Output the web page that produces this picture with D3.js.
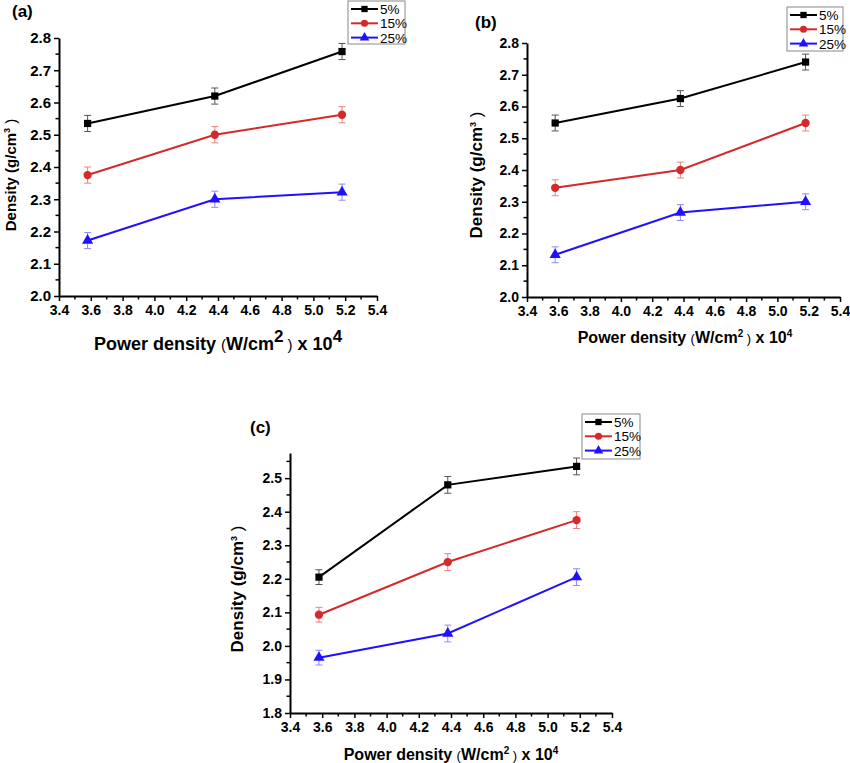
<!DOCTYPE html>
<html>
<head>
<meta charset="utf-8">
<script src="https://cdn.jsdelivr.net/npm/d3@7"></script>
<style>
  body { margin: 0; background: #fff; }
  svg { font-family: "Liberation Sans", Arial, sans-serif; }
  .tick text { font-weight: bold; }
</style>
</head>
<body>
<svg width="850" height="763"></svg>
<script>
// power density (W/cm2) x 10^4
var powerX = [3.58, 4.38, 5.18];
var seriesNames = ['5%', '15%', '25%'];

// panel (a)
var a5 = [2.535, 2.62, 2.758];
var a15 = [2.375, 2.50, 2.562];
var a25 = [2.172, 2.30, 2.322];
// panel (b)
var b5 = [2.548, 2.625, 2.740];
var b15 = [2.344, 2.40, 2.548];
var b25 = [2.133, 2.266, 2.300];
// panel (c)
var c5 = [2.205, 2.480, 2.535];
var c15 = [2.093, 2.250, 2.375];
var c25 = [1.965, 2.037, 2.205];

// error bar half heights
var errA = [0.025, 0.025, 0.025];
var errB = [0.025, 0.025, 0.025];
var errC = [0.022, 0.025, 0.025];

var xTicks = [3.4, 3.6, 3.8, 4.0, 4.2, 4.4, 4.6, 4.8, 5.0, 5.2, 5.4];
var yTicksAB = [2.0, 2.1, 2.2, 2.3, 2.4, 2.5, 2.6, 2.7, 2.8];
var yTicksC = [1.8, 1.9, 2.0, 2.1, 2.2, 2.3, 2.4, 2.5];

var colors = ['#000000', '#d42a2a', '#1f10ff'];
var errColors = ['#555555', '#e88080', '#8f88ff'];
var symbols = [d3.symbolSquare, d3.symbolCircle, d3.symbolTriangle];
var symSize = [52, 54, 54];

var svg = d3.select('svg');

function drawPanel(p) {
    var x = d3.scaleLinear().domain([3.4, 5.4]).range([p.left, p.right]);
    var y = d3.scaleLinear().domain(p.yDomain).range([p.bottom, p.top]);
    var g = svg.append('g');

    // minor ticks
    var xMinor = d3.range(35, 54, 2).map(function(v){ return v / 10; });
    g.selectAll('.xminor').data(xMinor).enter().append('line')
        .attr('x1', function(d){ return x(d); }).attr('x2', function(d){ return x(d); })
        .attr('y1', p.bottom).attr('y2', p.bottom + 3.5)
        .attr('stroke', '#000').attr('stroke-width', 1.5);
    var yMinor = d3.range(Math.round(p.yDomain[0] * 20) + 1, Math.floor(p.yDomain[1] * 20 + 0.01) + 1, 2)
        .map(function(v){ return v / 20; });
    g.selectAll('.yminor').data(yMinor).enter().append('line')
        .attr('y1', function(d){ return y(d); }).attr('y2', function(d){ return y(d); })
        .attr('x1', p.left).attr('x2', p.left - 3.5)
        .attr('stroke', '#000').attr('stroke-width', 1.5);

    var xAxis = d3.axisBottom(x).tickValues(xTicks).tickFormat(d3.format('.1f'))
        .tickSizeInner(5).tickSizeOuter(0).tickPadding(4);
    var gx = g.append('g').attr('transform', 'translate(0,' + p.bottom + ')').call(xAxis);
    gx.selectAll('text').style('font-size', p.xTickSize + 'px');

    var yAxis = d3.axisLeft(y).tickValues(p.yTicks).tickFormat(d3.format('.1f'))
        .tickSizeInner(5).tickSizeOuter(0).tickPadding(3);
    var gy = g.append('g').attr('transform', 'translate(' + p.left + ',0)').call(yAxis);
    gy.selectAll('text').style('font-size', p.yTickSize + 'px');

    [gx, gy].forEach(function(a){
        a.select('.domain').attr('stroke-width', 2);
        a.selectAll('.tick line').attr('stroke-width', 1.5);
    });

    var line = d3.line().x(function(d){ return x(d[0]); }).y(function(d){ return y(d[1]); });

    p.series.forEach(function(vals, i) {
        var pts = powerX.map(function(v, k){ return [v, vals[k], p.err[k]]; });
        g.append('path').datum(pts).attr('d', line)
            .attr('fill', 'none').attr('stroke', colors[i]).attr('stroke-width', 2);
        var eb = g.selectAll('.eb' + i).data(pts).enter().append('g');
        eb.append('line')
            .attr('x1', function(d){ return x(d[0]); }).attr('x2', function(d){ return x(d[0]); })
            .attr('y1', function(d){ return y(d[1] - d[2]); }).attr('y2', function(d){ return y(d[1] + d[2]); })
            .attr('stroke', errColors[i]).attr('stroke-width', 1);
        [-1, 1].forEach(function(s){
            eb.append('line')
                .attr('x1', function(d){ return x(d[0]) - 3.5; }).attr('x2', function(d){ return x(d[0]) + 3.5; })
                .attr('y1', function(d){ return y(d[1] + s * d[2]); }).attr('y2', function(d){ return y(d[1] + s * d[2]); })
                .attr('stroke', errColors[i]).attr('stroke-width', 1);
        });
        g.selectAll('.pt' + i).data(pts).enter().append('path')
            .attr('d', d3.symbol().type(symbols[i]).size(symSize[i]))
            .attr('transform', function(d){ return 'translate(' + x(d[0]) + ',' + y(d[1]) + ')'; })
            .attr('fill', colors[i]);
    });

    // legend
    var L = p.legend;
    g.append('rect').attr('x', L.x).attr('y', L.y).attr('width', L.w).attr('height', L.h)
        .attr('fill', '#fff').attr('stroke', '#888').attr('stroke-width', 1);
    seriesNames.forEach(function(name, i) {
        var ry = L.y + 8 + i * 14.3;
        g.append('line').attr('x1', L.x + 3).attr('x2', L.x + 30).attr('y1', ry).attr('y2', ry)
            .attr('stroke', colors[i]).attr('stroke-width', 2);
        g.append('path').attr('d', d3.symbol().type(symbols[i]).size(40))
            .attr('transform', 'translate(' + (L.x + 16.5) + ',' + ry + ')').attr('fill', colors[i]);
        g.append('text').attr('x', L.x + 32).attr('y', ry + 5).text(name)
            .style('font-size', '13.5px');
    });

    // panel label
    g.append('text').attr('x', p.label[0]).attr('y', p.label[1]).text(p.name)
        .style('font-size', '17px').style('font-weight', 'bold');

    // x title
    var xt = g.append('text').attr('x', p.xTitle[0]).attr('y', p.xTitle[1])
        .attr('text-anchor', 'middle').style('font-weight', 'bold').style('font-size', p.xTitleSize + 'px');
    xt.append('tspan').text('Power density ');
    xt.append('tspan').text('(').style('font-weight', 'normal').style('font-size', (p.xTitleSize - 3) + 'px');
    xt.append('tspan').text('W/cm');
    xt.append('tspan').text('2').attr('dy', -p.supShift).style('font-size', p.supSize + 'px');
    xt.append('tspan').text(' )').attr('dy', p.supShift).style('font-weight', 'normal').style('font-size', (p.xTitleSize - 3) + 'px');
    xt.append('tspan').text(' x 10');
    xt.append('tspan').text('4').attr('dy', -p.supShift).style('font-size', p.supSize + 'px');

    // y title
    var yt = g.append('text')
        .attr('transform', 'translate(' + p.yTitle[0] + ',' + p.yTitle[1] + ')rotate(270)')
        .attr('text-anchor', 'middle').style('font-weight', 'bold').style('font-size', p.yTitleSize + 'px');
    yt.append('tspan').text('Density (g/cm');
    yt.append('tspan').text('3').attr('dy', -6).style('font-size', '9px');
    yt.append('tspan').text(' )').attr('dy', 6).style('font-weight', 'normal');
}

drawPanel({
    name: '(a)', left: 59, right: 377, top: 38, bottom: 296,
    yDomain: [2.0, 2.8], yTicks: yTicksAB, series: [a5, a15, a25], err: errA,
    xTickSize: 14, yTickSize: 15,
    legend: { x: 348, y: 1, w: 57, h: 43 },
    label: [12, 17],
    xTitle: [218, 350], xTitleSize: 18, supShift: 8, supSize: 17,
    yTitle: [16, 175], yTitleSize: 15
});

drawPanel({
    name: '(b)', left: 527, right: 840, top: 43, bottom: 297,
    yDomain: [2.0, 2.8], yTicks: yTicksAB, series: [b5, b15, b25], err: errB,
    xTickSize: 14, yTickSize: 14,
    legend: { x: 787, y: 7, w: 56, h: 44 },
    label: [475, 28],
    xTitle: [685, 343], xTitleSize: 16, supShift: 6, supSize: 10,
    yTitle: [482, 175], yTitleSize: 17
});

drawPanel({
    name: '(c)', left: 290, right: 612, top: 453, bottom: 713,
    yDomain: [1.8, 2.575], yTicks: yTicksC, series: [c5, c15, c25], err: errC,
    xTickSize: 14, yTickSize: 14,
    legend: { x: 582, y: 414, w: 58, h: 45 },
    label: [250, 433],
    xTitle: [451, 760], xTitleSize: 16, supShift: 6, supSize: 10,
    yTitle: [243, 589], yTitleSize: 17
});
</script>
</body>
</html>
